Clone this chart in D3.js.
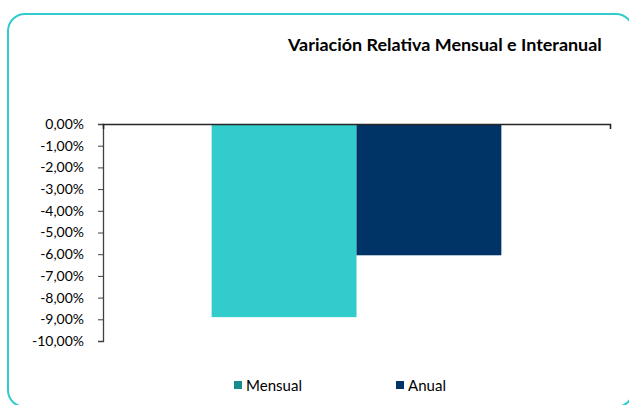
<!DOCTYPE html>
<html><head><meta charset="utf-8">
<script src="https://cdn.jsdelivr.net/npm/d3@7"></script>
<style>html,body{margin:0;padding:0;background:#fff;overflow:hidden}</style>
</head><body>
<script>
const categories = [""];
const seriesNames = ["Mensual", "Anual"];
const seriesValues = [-8.9, -6.05];
const yTicks = [0, -1, -2, -3, -4, -5, -6, -7, -8, -9, -10];
const title = "Variación Relativa Mensual e Interanual";
const barColors = ["#33CCCC", "#003366"];
const legendColors = ["#168c8c", "#003366"];

(function () {
const W = 629, H = 405;
const svg = d3.select("body").append("svg").attr("width", W).attr("height", H);
const font = "Lato, 'Liberation Sans', sans-serif";

svg.append("rect").attr("x", 8).attr("y", 14).attr("width", 625).attr("height", 393)
  .attr("rx", 17).attr("ry", 17).attr("fill", "#fff").attr("stroke", "#33CCCC").attr("stroke-width", 2);

const pLeft = 103, pRight = 610, pTop = 124, pBottom = 341;
const y = d3.scaleLinear().domain([-10, 0]).range([pBottom, pTop]);
const x0 = d3.scaleBand().domain(categories).range([pLeft, pRight]).padding(0);
const x1 = d3.scaleBand().domain(seriesNames).range([x0(categories[0]), x0(categories[0]) + x0.bandwidth()])
  .paddingInner(0).paddingOuter(0.75);

svg.append("g").selectAll("rect").data(seriesNames).join("rect")
  .attr("x", d => x1(d)).attr("width", x1.bandwidth())
  .attr("y", (d, i) => y(Math.max(0, seriesValues[i])))
  .attr("height", (d, i) => Math.abs(y(seriesValues[i]) - y(0)))
  .attr("fill", (d, i) => barColors[i]);

const fmt = v => d3.format(".2f")(v).replace(".", ",").replace("−", "-") + "%";
const yAxis = svg.append("g").attr("transform", `translate(${pLeft},0)`)
  .call(d3.axisLeft(y).tickValues(yTicks).tickFormat(fmt).tickSize(5).tickPadding(14));
yAxis.select(".domain").attr("stroke", "#404040").attr("stroke-width", 1.3);
yAxis.selectAll(".tick line").attr("stroke", "#404040");
const yt = yAxis.selectAll("text").attr("font-family", font).attr("font-size", 12.5).attr("fill", "#000");
let maxW = 0; yt.each(function () { maxW = Math.max(maxW, this.getComputedTextLength()); });
yt.attr("font-size", 12.5 * 52 / maxW);

const xAxis = svg.append("g").attr("transform", `translate(0,${y(0)})`)
  .call(d3.axisBottom(x0).tickSize(5).tickSizeOuter(5).tickFormat(""));
xAxis.select(".domain").attr("stroke", "#262626").attr("stroke-width", 1.6);
xAxis.selectAll(".tick line").remove();

const t = svg.append("text").attr("x", 288).attr("y", 51).attr("font-family", font)
  .attr("font-weight", "bold").attr("font-size", 14.5).attr("fill", "#000").text(title);
const tw = t.node().getComputedTextLength();
t.attr("font-size", 14.5 * 314 / tw);

const legX = [234, 396];
const lg = svg.append("g").selectAll("g").data(seriesNames).join("g")
  .attr("transform", (d, i) => `translate(${legX[i]},381)`);
lg.append("rect").attr("width", 8).attr("height", 8).attr("fill", (d, i) => legendColors[i]);
const lt = lg.append("text").attr("x", 12).attr("y", 9.5).attr("font-family", font).attr("font-size", 13.5)
  .attr("fill", "#000").text(d => d);
const mw = lt.nodes()[0].getComputedTextLength();
lt.attr("font-size", 13.5 * 56 / mw);
})();
</script>
</body></html>
